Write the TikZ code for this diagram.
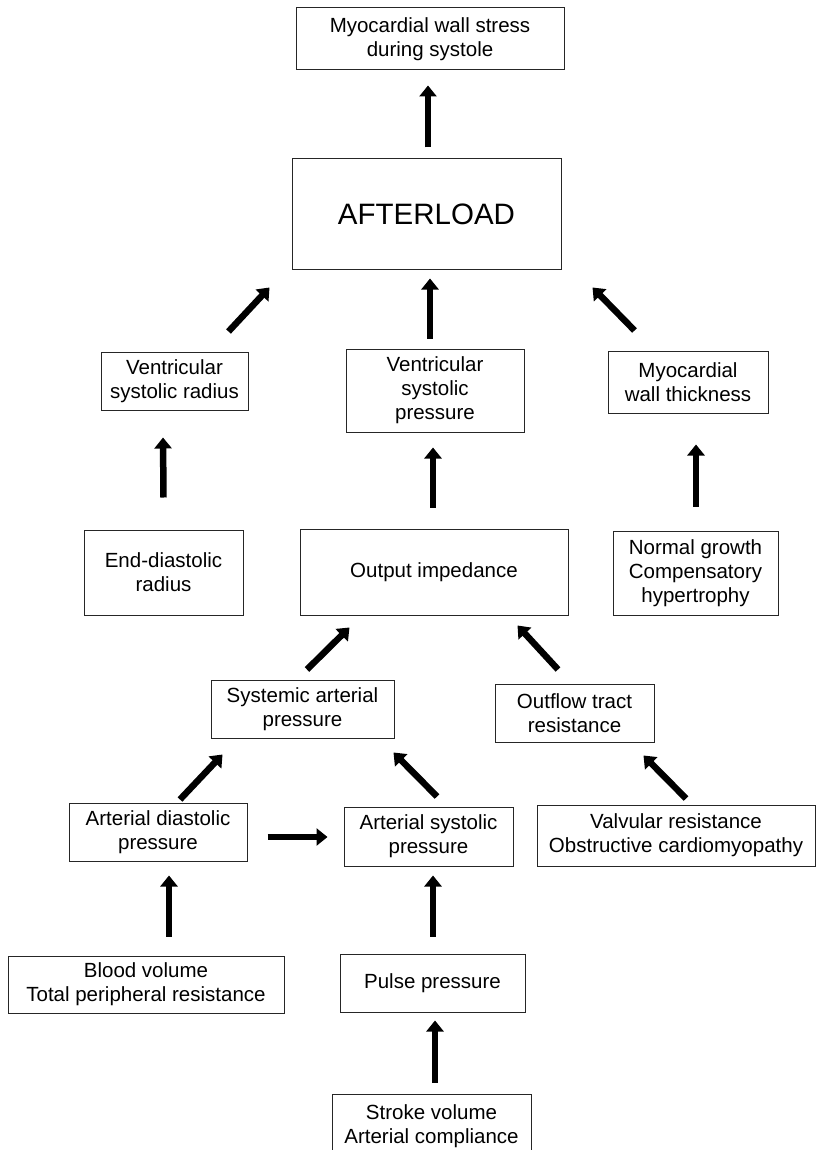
\documentclass[tikz,border=0pt]{standalone}
\usepackage{fontspec}
\setmainfont{Liberation Sans}
\usepackage{tikz}
\usetikzlibrary{arrows.meta}

\begin{document}
\begin{tikzpicture}[x=1pt,y=-1pt,
    box/.style={draw=black!85,line width=1pt,inner sep=0pt,align=center,
                font=\fontsize{20.5}{24}\selectfont},
    arr/.style={line width=6.5pt,-{Triangle[length=11pt,width=17pt]}}]
    \useasboundingbox (0,0) rectangle (816,1150);
    % boxes
    \node[box,minimum width=268pt,minimum height=62pt] (stress) at (430,39) {Myocardial wall stress\\during systole};
    \node[box,minimum width=269pt,minimum height=110pt,font=\fontsize{29.5}{34}\selectfont] (afterload) at (426.5,214) {AFTERLOAD};
    \node[box,minimum width=147pt,minimum height=58pt] (vradius) at (174.5,381) {Ventricular\\systolic radius};
    \node[box,minimum width=178pt,minimum height=83pt] (vpress) at (435,390.5) {Ventricular\\systolic\\pressure};
    \node[box,minimum width=160pt,minimum height=62pt] (thick) at (688,382) {Myocardial\\wall thickness};
    \node[box,minimum width=159pt,minimum height=85pt] (edradius) at (163.5,572.5) {End-diastolic\\radius};
    \node[box,minimum width=268pt,minimum height=86pt] (impedance) at (434,572) {Output impedance};
    \node[box,minimum width=165pt,minimum height=84pt] (growth) at (695.5,573) {Normal growth\\Compensatory\\hypertrophy};
    \node[box,minimum width=183pt,minimum height=58pt] (sysart) at (302.5,709) {Systemic arterial\\pressure};
    \node[box,minimum width=159pt,minimum height=58pt] (outflow) at (574.5,713) {Outflow tract\\resistance};
    \node[box,minimum width=178pt,minimum height=58pt] (artdia) at (158,832) {Arterial diastolic\\pressure};
    \node[box,minimum width=169pt,minimum height=59pt] (artsys) at (428.5,836.5) {Arterial systolic\\pressure};
    \node[box,minimum width=278pt,minimum height=61pt] (valve) at (676,835.5) {Valvular resistance\\Obstructive cardiomyopathy};
    \node[box,minimum width=276pt,minimum height=57pt] (blood) at (146,984.5) {Blood volume\\Total peripheral resistance};
    \node[box,minimum width=185pt,minimum height=58pt] (pulse) at (432.5,983) {Pulse pressure};
    \node[box,minimum width=199pt,minimum height=64pt] (stroke) at (431.5,1126) {Stroke volume\\Arterial compliance};
    % arrows
    \draw[arr] ([shift={(1.5,-11)}]afterload.north) -- ([shift={(-2,15)}]stress.south);
    \draw[arr] ([shift={(-5,-10)}]vpress.north) -- ([shift={(3.5,9)}]afterload.south);
    \draw[arr] ([shift={(-20,-20)}]vradius.north east) -- ([shift={(-22,18)}]afterload.south west);
    \draw[arr] ([shift={(27,-20)}]thick.north west) -- ([shift={(31,18)}]afterload.south east);
    \draw[arr] ([shift={(0,-32)}]edradius.north) -- ([shift={(-11.5,27)}]vradius.south);
    \draw[arr] ([shift={(-1,-21)}]impedance.north) -- ([shift={(-2,15)}]vpress.south);
    \draw[arr] ([shift={(0.5,-24)}]growth.north) -- ([shift={(8,31)}]thick.south);
    \draw[arr] ([shift={(4.5,-10)}]sysart.north) -- ([shift={(50,12)}]impedance.south west);
    \draw[arr] ([shift={(-16.5,-14)}]outflow.north) -- ([shift={(-51,10)}]impedance.south east);
    \draw[arr] ([shift={(22,-3)}]artdia.north) -- ([shift={(12,16)}]sysart.south west);
    \draw[arr] ([shift={(8.5,-10)}]artsys.north) -- ([shift={(-1,14)}]sysart.south east);
    \draw[arr] ([shift={(10,-6)}]valve.north) -- ([shift={(-11,13)}]outflow.south east);
    \draw[arr] ([shift={(20,5)}]artdia.east) -- ([shift={(-16,0.5)}]artsys.west);
    \draw[arr] ([shift={(23,-19)}]blood.north) -- ([shift={(11,14)}]artdia.south);
    \draw[arr] ([shift={(0.5,-17)}]pulse.north) -- ([shift={(4.5,9)}]artsys.south);
    \draw[arr] ([shift={(3.5,-11)}]stroke.north) -- ([shift={(2.5,8)}]pulse.south);
\end{tikzpicture}
\end{document}
